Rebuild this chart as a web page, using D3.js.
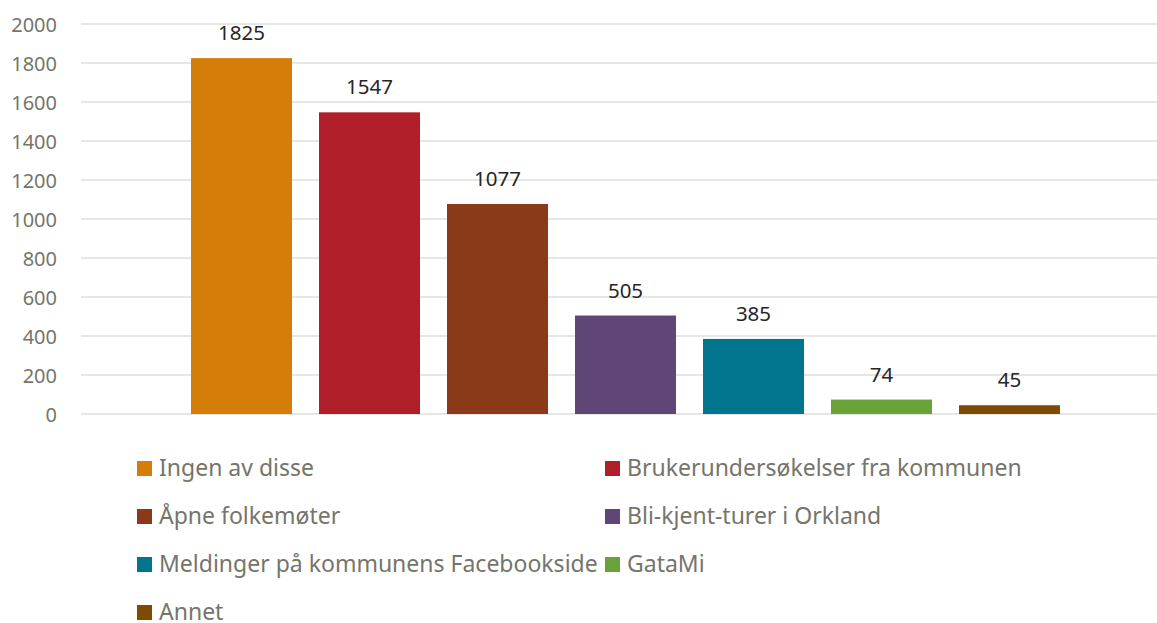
<!DOCTYPE html>
<html>
<head>
<meta charset="utf-8">
<script src="https://cdn.jsdelivr.net/npm/d3@7"></script>
<style>
  body { margin: 0; background: #fff; }
  text { font-family: "Noto Sans", sans-serif; }
</style>
</head>
<body>
<div id="chart"></div>
<script>
const width = 1157;
const height = 623;

// data
const categories = ["Ingen av disse", "Brukerundersøkelser fra kommunen", "Åpne folkemøter",
    "Bli-kjent-turer i Orkland", "Meldinger på kommunens Facebookside", "GataMi", "Annet"];
const values = [1825, 1547, 1077, 505, 385, 74, 45];
const colors = ["#d47d08", "#b01e29", "#8b3a19", "#604677", "#00758d", "#6aa33a", "#7f4a06"];
const yTicks = [0, 200, 400, 600, 800, 1000, 1200, 1400, 1600, 1800, 2000];

const margin = { top: 24, left: 81, right: 0, bottom: 209 };

const xScale = d3.scaleBand()
    .domain(categories)
    .range([164, 1087])
    .padding(0.211);

const yScale = d3.scaleLinear()
    .domain([0, 2000])
    .range([height - margin.bottom, margin.top]);

const svg = d3.select("#chart").append("svg")
    .attr("width", width)
    .attr("height", height);

// gridlines
svg.append("g")
    .selectAll("line")
    .data(yTicks)
    .join("line")
    .attr("x1", margin.left)
    .attr("x2", width - margin.right)
    .attr("y1", d => yScale(d))
    .attr("y2", d => yScale(d))
    .attr("stroke", "#dededa")
    .attr("stroke-width", 1.5);

// y axis labels
const yAxis = d3.axisLeft(yScale).tickValues(yTicks).tickFormat(d3.format("d")).tickSize(0).tickPadding(0);
svg.append("g")
    .attr("transform", `translate(57,0)`)
    .call(yAxis)
    .call(g => g.select(".domain").remove())
    .call(g => g.selectAll("text")
        .attr("fill", "#75756a")
        .attr("font-size", 20)
        .attr("font-family", "Noto Sans, sans-serif")
        .attr("dy", "0.36em"));

// bars
svg.append("g")
    .selectAll("rect")
    .data(values)
    .join("rect")
    .attr("x", (d, i) => xScale(categories[i]))
    .attr("y", d => yScale(d))
    .attr("width", xScale.bandwidth())
    .attr("height", d => yScale(0) - yScale(d))
    .attr("fill", (d, i) => colors[i]);

// value labels
svg.append("g")
    .selectAll("text")
    .data(values)
    .join("text")
    .attr("x", (d, i) => xScale(categories[i]) + xScale.bandwidth() / 2)
    .attr("y", d => yScale(d) - 18)
    .attr("text-anchor", "middle")
    .attr("font-size", 20.5)
    .attr("fill", "#262626")
    .text(d => d);

// legend, two columns
const legend = svg.append("g")
    .selectAll("g")
    .data(categories)
    .join("g")
    .attr("transform", (d, i) => `translate(${i % 2 === 0 ? 137 : 605},${468.5 + Math.floor(i / 2) * 48})`);

legend.append("rect")
    .attr("x", 0)
    .attr("y", -7.5)
    .attr("width", 15)
    .attr("height", 15)
    .attr("fill", (d, i) => colors[i]);

legend.append("text")
    .attr("x", 22)
    .attr("y", 0)
    .attr("dy", "0.34em")
    .attr("font-size", 23)
    .attr("fill", "#75756a")
    .text(d => d);
</script>
</body>
</html>
